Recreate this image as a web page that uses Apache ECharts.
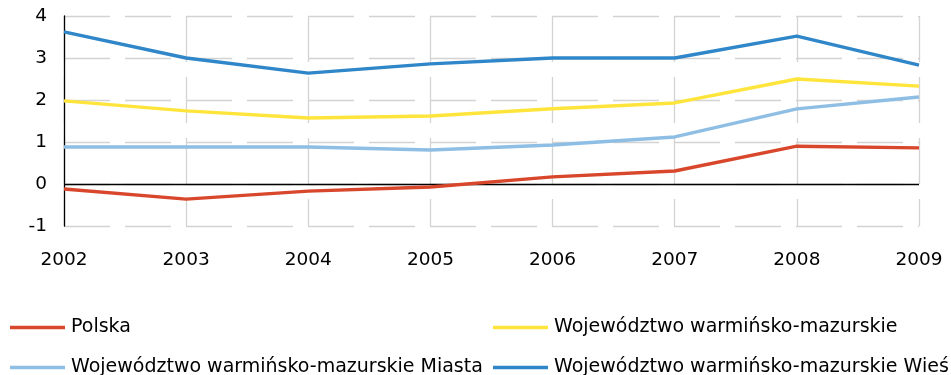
<!DOCTYPE html>
<html>
<head>
<meta charset="utf-8">
<script src="https://cdn.jsdelivr.net/npm/echarts@6/dist/echarts.min.js"></script>
<style>
  html, body { margin: 0; padding: 0; background: #fff; }
  #chart { width: 951px; height: 375px; }
</style>
</head>
<body>
<div id="chart"></div>
<script>
// Years on the category axis
const years = ['2002', '2003', '2004', '2005', '2006', '2007', '2008', '2009'];

// Series values
const polska = [-0.12, -0.36, -0.17, -0.07, 0.17, 0.31, 0.90, 0.86];
const wojewodztwo = [1.98, 1.74, 1.57, 1.62, 1.79, 1.93, 2.50, 2.33];
const miasta = [0.88, 0.88, 0.88, 0.81, 0.93, 1.12, 1.79, 2.07];
const wies = [3.62, 3.00, 2.64, 2.86, 3.00, 3.00, 3.52, 2.83];

// Series names
const names = [
  'Polska',
  'Województwo warmińsko-mazurskie',
  'Województwo warmińsko-mazurskie Miasta',
  'Województwo warmińsko-mazurskie Wieś'
];
const colors = ['#d8472b', '#ffe53b', '#8fbee4', '#2f86c8'];

const FONT = 'DejaVu Sans';
const gridDash = { color: '#d3d3d3', width: 1.3, type: [46, 15] };

function lineSeries(name, data, color, extra) {
  return Object.assign({
    name: name,
    type: 'line',
    data: data,
    symbol: 'none',
    smooth: false,
    lineStyle: { color: color, width: 3.4 },
    itemStyle: { color: color },
    z: 3
  }, extra || {});
}

function legendAt(name, left, top) {
  return {
    data: [name],
    left: left,
    top: top,
    icon: 'rect',
    itemWidth: 55,
    itemHeight: 3.4,
    itemGap: 0,
    padding: 0,
    selectedMode: false,
    textStyle: { fontFamily: FONT, fontSize: 19, color: '#000', padding: [0, 0, 0, 1] }
  };
}

const chart = echarts.init(document.getElementById('chart'), null, { renderer: 'canvas' });
chart.setOption({
  animation: false,
  backgroundColor: '#fff',
  grid: { left: 64, right: 32, top: 16, bottom: 149, containLabel: false },
  legend: [
    legendAt(names[0], 10, 318),
    legendAt(names[1], 493, 318),
    legendAt(names[2], 10, 358),
    legendAt(names[3], 493, 358)
  ],
  xAxis: {
    type: 'category',
    data: years,
    boundaryGap: false,
    axisLine: { show: false, onZero: false },
    axisTick: { show: false },
    axisLabel: { fontFamily: FONT, fontSize: 18.5, color: '#000', margin: 25 },
    splitLine: { show: true, lineStyle: gridDash }
  },
  yAxis: {
    type: 'value',
    min: -1,
    max: 4,
    interval: 1,
    axisLine: { show: true, onZero: false, lineStyle: { color: '#000', width: 1.3 } },
    axisTick: { show: false },
    axisLabel: { fontFamily: FONT, fontSize: 18.5, color: '#000', margin: 17 },
    splitLine: { show: true, lineStyle: gridDash }
  },
  series: [
    lineSeries(names[0], polska, colors[0], {
      markLine: {
        silent: true,
        symbol: 'none',
        label: { show: false },
        lineStyle: { color: '#000', width: 1.3, type: 'solid' },
        data: [{ yAxis: 0 }],
        z: 2
      }
    }),
    lineSeries(names[1], wojewodztwo, colors[1]),
    lineSeries(names[2], miasta, colors[2]),
    lineSeries(names[3], wies, colors[3])
  ]
});
</script>
</body>
</html>
